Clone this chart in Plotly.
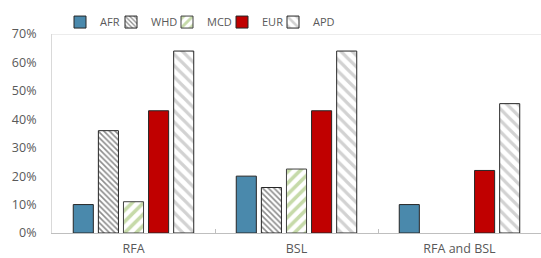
import plotly.graph_objects as go

categories = ["RFA", "BSL", "RFA and BSL"]
afr = [0.10, 0.20, 0.10]
whd = [0.36, 0.16, None]
mcd = [0.11, 0.225, None]
eur = [0.43, 0.43, 0.22]
apd = [0.64, 0.64, 0.455]
y_ticks = [0, 0.1, 0.2, 0.3, 0.4, 0.5, 0.6, 0.7]

# legend symbol left edges (px), laid out to follow the reference
legend_symbol_px = [74, 125, 181, 236, 287]
PLOT_L, PLOT_W = 52, 489

fig = go.Figure()
fig.add_bar(name="AFR", x=categories, y=afr, legend="legend",
            marker=dict(color="#4A89AC", line=dict(color="#262626", width=1)))
fig.add_bar(name="WHD", x=categories, y=whd, legend="legend2",
            marker=dict(color="white", line=dict(color="#262626", width=1),
                        pattern=dict(shape="\\", fgcolor="#1A1A1A", bgcolor="white",
                                     size=4, solidity=0.4)))
fig.add_bar(name="MCD", x=categories, y=mcd, legend="legend3",
            marker=dict(color="white", line=dict(color="#404040", width=1),
                        pattern=dict(shape="/", fgcolor="#8DB654", bgcolor="white",
                                     size=8, solidity=0.45)))
fig.add_bar(name="EUR", x=categories, y=eur, legend="legend4",
            marker=dict(color="#C00000", line=dict(color="#262626", width=1)))
fig.add_bar(name="APD", x=categories, y=apd, legend="legend5",
            marker=dict(color="white", line=dict(color="#262626", width=1),
                        pattern=dict(shape="\\", fgcolor="#A6A6A6", bgcolor="white",
                                     size=8, solidity=0.4)))

fig.add_shape(type="line", xref="paper", yref="y", x0=0, x1=1, y0=0.7, y1=0.7,
              line=dict(color="#D9D9D9", width=1))

legend_common = dict(orientation="h", xanchor="left", y=1.06, yanchor="middle",
                     font=dict(size=11, color="#595959"), itemwidth=30,
                     bgcolor="rgba(0,0,0,0)")
legends = {}
for i, sx in enumerate(legend_symbol_px):
    key = "legend" if i == 0 else f"legend{i + 1}"
    legends[key] = dict(legend_common, x=(sx - 14 - PLOT_L) / PLOT_W)

fig.update_layout(
    width=541, height=258,
    margin=dict(l=52, r=0, t=34, b=25, autoexpand=False),
    paper_bgcolor="white", plot_bgcolor="white",
    barmode="group", bargap=0.23, bargroupgap=0.2,
    font=dict(family="Open Sans", size=12, color="#595959"),
    showlegend=True,
    **legends,
    xaxis=dict(showline=True, linecolor="#BFBFBF", linewidth=1, automargin=False,
               ticks="inside", tickson="boundaries", ticklen=4, tickcolor="#BFBFBF",
               ticklabelstandoff=4, tickfont=dict(size=12.5, color="#595959"),
               showgrid=False, range=[-0.5, 2.5]),
    yaxis=dict(range=[0, 0.7], tickvals=y_ticks, tickformat=".0%", automargin=False,
               showline=True, linecolor="#D9D9D9", linewidth=1,
               showgrid=False, zeroline=False, ticks="", ticklabelstandoff=12,
               tickfont=dict(size=12.5, color="#595959")),
)

fig.write_html("out.html",
               config={"displayModeBar": False},
               post_script="document.body.style.margin='0';document.body.style.overflow='hidden';")
